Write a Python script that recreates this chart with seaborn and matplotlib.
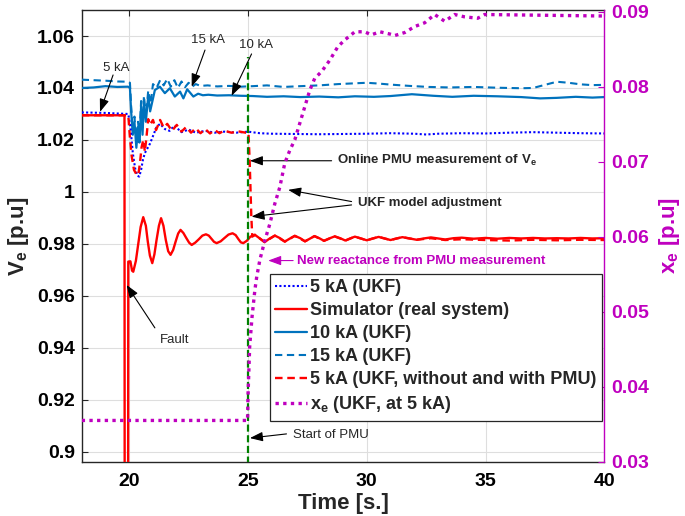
import matplotlib
matplotlib.use("Agg")
import matplotlib.pyplot as plt
import seaborn as sns

# ---------------- data ----------------
sim_time = [18.0, 19.80, 19.81, 19.95, 19.96, 20.05, 20.12, 20.17, 20.28, 20.38,
            20.48, 20.59, 20.70, 20.78, 20.87, 20.97, 21.06, 21.15, 21.25, 21.34,
            21.44, 21.54, 21.64, 21.74, 21.85, 21.95, 22.06, 22.16, 22.28, 22.40,
            22.52, 22.63, 22.78, 22.93, 23.08, 23.23, 23.35, 23.46, 23.57, 23.68,
            23.85, 24.00, 24.18, 24.35, 24.48, 24.60, 24.70, 24.80, 24.95, 25.10,
            25.29, 25.50, 25.70, 25.90, 26.13, 26.35, 26.55, 26.75, 26.97, 27.20,
            27.40, 27.60, 27.80, 28.00, 28.20, 28.42, 28.65, 28.88, 29.10, 29.30,
            29.50, 29.75, 30.00, 30.25, 30.50, 30.75, 31.00, 31.25, 31.50, 31.80,
            32.10, 32.40, 32.70, 33.00, 33.30, 33.65, 34.00, 34.50, 35.00, 35.50,
            36.00, 36.50, 37.00, 37.50, 38.00, 38.50, 39.00, 39.50, 40.00]
sim_volt = [1.0295, 1.0295, 0.8500, 0.8500, 0.9732, 0.9733, 0.9697, 0.9693, 0.9735, 0.9800,
            0.9865, 0.9903, 0.9870, 0.9810, 0.9755, 0.9726, 0.9760, 0.9815, 0.9870, 0.9899,
            0.9870, 0.9815, 0.9772, 0.9758, 0.9777, 0.9808, 0.9840, 0.9854, 0.9842, 0.9823,
            0.9805, 0.9796, 0.9805, 0.9818, 0.9832, 0.9837, 0.9832, 0.9820, 0.9808, 0.9803,
            0.9810, 0.9822, 0.9836, 0.9841, 0.9834, 0.9818, 0.9806, 0.9803, 0.9812, 0.9828,
            0.9835, 0.9821, 0.9807, 0.9820, 0.9832, 0.9822, 0.9809, 0.9820, 0.9831, 0.9822,
            0.9810, 0.9820, 0.9830, 0.9822, 0.9812, 0.9821, 0.9829, 0.9822, 0.9813, 0.9821,
            0.9828, 0.9821, 0.9814, 0.9821, 0.9827, 0.9821, 0.9815, 0.9821, 0.9826, 0.9821,
            0.9816, 0.9821, 0.9825, 0.9821, 0.9817, 0.9822, 0.9824, 0.9820, 0.9823, 0.9820,
            0.9823, 0.9821, 0.9823, 0.9821, 0.9822, 0.9821, 0.9823, 0.9821, 0.9822]

ukf5_time = [18.0, 19.0, 19.96, 20.05, 20.15, 20.25, 20.35, 20.42, 20.50, 20.58,
             20.66, 20.75, 20.87, 21.0, 21.15, 21.3, 21.5, 21.7, 21.9, 22.2,
             22.5, 22.8, 23.2, 23.6, 24.0, 24.5, 25.0, 25.5, 26.0, 27.0,
             28.0, 29.0, 30.0, 31.0, 32.0, 32.5, 33.0, 34.0, 35.0, 36.0,
             37.0, 38.0, 39.0, 40.0]
ukf5_volt = [1.0306, 1.0304, 1.0300, 1.0250, 1.0150, 1.0090, 1.0062, 1.0059, 1.0085, 1.0125,
             1.0150, 1.0165, 1.0185, 1.0215, 1.0250, 1.0262, 1.0242, 1.0235, 1.0255, 1.0230,
             1.0240, 1.0228, 1.0235, 1.0228, 1.0232, 1.0228, 1.0232, 1.0226, 1.0224, 1.0223,
             1.0222, 1.0223, 1.0224, 1.0226, 1.0224, 1.0221, 1.0224, 1.0226, 1.0225, 1.0228,
             1.0230, 1.0228, 1.0226, 1.0225]

ukf10_time = [18.0, 18.5, 19.0, 19.5, 19.95, 20.03, 20.08, 20.15, 20.22, 20.30,
              20.37, 20.43, 20.50, 20.56, 20.62, 20.70, 20.80, 20.88, 21.08, 21.29,
              21.50, 21.71, 21.92, 22.14, 22.28, 22.44, 22.70, 22.90, 23.10, 23.33,
              23.70, 24.20, 24.70, 25.20, 25.80, 26.50, 27.20, 28.00, 28.80, 29.50,
              30.30, 31.00, 31.90, 32.80, 33.60, 34.50, 35.50, 36.50, 37.30, 38.00,
              38.80, 39.50, 40.00]
ukf10_volt = [1.0400, 1.0402, 1.0407, 1.0404, 1.0405, 1.0400, 1.0310, 1.0220, 1.0270, 1.0170,
              1.0250, 1.0190, 1.0330, 1.0220, 1.0350, 1.0270, 1.0370, 1.0310, 1.0392, 1.0405,
              1.0380, 1.0399, 1.0367, 1.0386, 1.0360, 1.0395, 1.0367, 1.0378, 1.0372, 1.0374,
              1.0371, 1.0372, 1.0370, 1.0369, 1.0366, 1.0368, 1.0365, 1.0367, 1.0364, 1.0368,
              1.0366, 1.0369, 1.0376, 1.0370, 1.0366, 1.0370, 1.0368, 1.0365, 1.0360, 1.0362,
              1.0366, 1.0363, 1.0365]

ukf15_time = [18.0, 18.5, 19.0, 19.5, 19.95, 20.03, 20.08, 20.15, 20.22, 20.30,
              20.37, 20.43, 20.50, 20.56, 20.62, 20.70, 20.80, 20.90, 21.0, 21.15,
              21.3, 21.45, 21.6, 21.75, 21.9, 22.05, 22.2, 22.35, 22.5, 22.65,
              22.8, 23.0, 23.3, 23.7, 24.2, 24.7, 25.2, 25.8, 26.5, 27.2,
              28.0, 28.8, 29.5, 30.0, 30.5, 31.0, 31.8, 32.6, 33.5, 34.5,
              35.5, 36.5, 37.0, 37.5, 38.0, 38.5, 39.0, 39.5, 40.0]
ukf15_volt = [1.0432, 1.0430, 1.0428, 1.0425, 1.0424, 1.0420, 1.0330, 1.0240, 1.0290, 1.0190,
              1.0270, 1.0210, 1.0350, 1.0240, 1.0370, 1.0290, 1.0390, 1.0340, 1.0415, 1.0400,
              1.0430, 1.0410, 1.0435, 1.0405, 1.0430, 1.0400, 1.0425, 1.0403, 1.0420, 1.0405,
              1.0415, 1.0408, 1.0410, 1.0406, 1.0408, 1.0405, 1.0407, 1.0410, 1.0404, 1.0407,
              1.0410, 1.0415, 1.0418, 1.0420, 1.0417, 1.0413, 1.0408, 1.0404, 1.0402, 1.0404,
              1.0401, 1.0399, 1.0400, 1.0412, 1.0424, 1.0420, 1.0414, 1.0411, 1.0412]

pmu_time = [18.0, 19.96, 20.02, 20.10, 20.20, 20.30, 20.38, 20.45, 20.52, 20.59,
            20.66, 20.73, 20.80, 20.87, 21.00, 21.13, 21.30, 21.45, 21.60, 21.80,
            22.00, 22.20, 22.40, 22.60, 22.80, 23.00, 23.20, 23.40, 23.60, 23.80,
            24.00, 24.30, 24.60, 24.90, 25.02, 25.07, 25.14, 25.18, 25.29, 25.70,
            26.13, 26.55, 26.97, 27.40, 27.80, 28.20, 28.65, 29.10, 29.50, 30.00,
            30.50, 31.00, 31.50, 32.10, 32.70, 33.30, 34.00, 35.00, 36.00, 37.00,
            38.00, 39.00, 40.00]
pmu_volt = [1.0295, 1.0295, 1.0220, 1.0140, 1.0085, 1.0068, 1.0065, 1.0110, 1.0172, 1.0200,
            1.0155, 1.0215, 1.0280, 1.0258, 1.0277, 1.0238, 1.0277, 1.0248, 1.0262, 1.0235,
            1.0258, 1.0232, 1.0250, 1.0228, 1.0245, 1.0226, 1.0242, 1.0225, 1.0238, 1.0226,
            1.0236, 1.0228, 1.0233, 1.0228, 1.0228, 1.0120, 0.9905, 0.9828, 0.9835, 0.9807,
            0.9832, 0.9809, 0.9831, 0.9810, 0.9830, 0.9812, 0.9829, 0.9813, 0.9828, 0.9814,
            0.9827, 0.9815, 0.9826, 0.9816, 0.9822, 0.9815, 0.9818, 0.9815, 0.9813, 0.9816,
            0.9814, 0.9816, 0.9815]

xe_time = [18.0, 24.98, 25.0, 25.07, 25.17, 25.29, 25.37, 25.5, 25.71, 25.92,
           26.13, 26.34, 26.55, 26.76, 26.97, 27.18, 27.39, 27.6, 27.81, 28.1,
           28.44, 28.78, 29.07, 29.5, 29.9, 30.2, 30.55, 30.97, 31.18, 31.6,
           32.02, 32.44, 32.86, 33.28, 33.7, 34.1, 34.67, 34.96, 40.0]
xe_value = [0.0355, 0.0355, 0.0387, 0.0453, 0.0493, 0.0529, 0.0547, 0.0569, 0.0595, 0.0617,
            0.0644, 0.0666, 0.0698, 0.0715, 0.0729, 0.0751, 0.0773, 0.0795, 0.0811, 0.0820,
            0.0835, 0.0853, 0.0862, 0.0873, 0.0873, 0.0869, 0.0873, 0.0870, 0.0868, 0.0872,
            0.0880, 0.0885, 0.0896, 0.0887, 0.0896, 0.0893, 0.0891, 0.0896, 0.0894]

pmu_start = 25.0
pmu_line_range = [0.85, 1.052]

legend_labels = ["5 kA (UKF)", "Simulator (real system)", "10 kA (UKF)", "15 kA (UKF)",
                 "5 kA (UKF, without and with PMU)", r"$\mathbf{x_e}$ (UKF, at 5 kA)"]
x_ticks = [20, 25, 30, 35, 40]
left_ticks = [0.90, 0.92, 0.94, 0.96, 0.98, 1.00, 1.02, 1.04, 1.06]
left_tick_labels = ["0.9", "0.92", "0.94", "0.96", "0.98", "1", "1.02", "1.04", "1.06"]
right_ticks = [0.03, 0.04, 0.05, 0.06, 0.07, 0.08, 0.09]
right_tick_labels = ["0.03", "0.04", "0.05", "0.06", "0.07", "0.08", "0.09"]

# ---------------- style ----------------
sns.set_theme(style="white")
plt.rcParams["font.family"] = ["Liberation Sans", "DejaVu Sans"]
plt.rcParams["mathtext.fontset"] = "custom"
plt.rcParams["mathtext.rm"] = "Liberation Sans"
plt.rcParams["mathtext.it"] = "Liberation Sans:italic"
plt.rcParams["mathtext.bf"] = "Liberation Sans:bold"

MAG = "#BF00BF"
MBLUE = "#0072BD"
RED = "#FF0000"
BLUE = "#0000FF"
GREEN = "#008000"
AXC = "#262626"

fig = plt.figure(figsize=(6.85, 5.16), dpi=100)
ax = fig.add_axes([0.1193, 0.1052, 0.7629, 0.8754])
ax2 = ax.twinx()

def draw(axis, x, y, **kw):
    sns.lineplot(x=x, y=y, ax=axis, estimator=None, sort=False, legend=False, **kw)
    return axis.get_lines()[-1]

h_sim = draw(ax, sim_time, sim_volt, color=RED, linewidth=1.7, zorder=3)
h_5 = draw(ax, ukf5_time, ukf5_volt, color=BLUE, linewidth=1.5, linestyle=(0, (1, 1.1)), zorder=4)
h_10 = draw(ax, ukf10_time, ukf10_volt, color=MBLUE, linewidth=1.6, zorder=3)
h_15 = draw(ax, ukf15_time, ukf15_volt, color=MBLUE, linewidth=1.5, linestyle=(0, (3.5, 2.2)), zorder=3)
h_pmu = draw(ax, pmu_time, pmu_volt, color=RED, linewidth=1.7, linestyle=(0, (3.2, 2.0)), zorder=4)
ax.vlines(pmu_start, pmu_line_range[0], pmu_line_range[1], colors=GREEN, linewidth=1.6,
          linestyles=[(0, (3.2, 1.6))], zorder=5)
h_xe = draw(ax2, xe_time, xe_value, color=MAG, linewidth=2.4, linestyle=(0, (1, 1.3)), zorder=3)

# ---------------- axes ----------------
ax.set_xlim(18, 40)
ax.set_ylim(0.8962, 1.07)
ax2.set_ylim(0.03, 0.0902)
ax.set_xticks(x_ticks)
ax.set_xticklabels([str(t) for t in x_ticks], fontweight="bold", fontsize=14)
ax.set_yticks(left_ticks)
ax.set_yticklabels(left_tick_labels, fontweight="bold", fontsize=14)
ax2.set_yticks(right_ticks)
ax2.set_yticklabels(right_tick_labels, fontweight="bold", fontsize=14, color=MAG)

ax.grid(True, color="#dedede", linewidth=0.8)
ax.set_axisbelow(True)
ax2.grid(False)
ax.tick_params(axis="x", direction="in", length=4, width=0.8, color=AXC, labelcolor="black",
               top=True, pad=8)
ax.tick_params(axis="y", direction="in", length=4, width=0.8, color=AXC, labelcolor="black",
               right=False, pad=5)
ax2.tick_params(axis="y", direction="in", length=4, width=0.8, color=MAG, labelcolor=MAG, pad=5)
for s in ["left", "bottom", "top"]:
    ax.spines[s].set_color(AXC)
    ax.spines[s].set_linewidth(1.0)
for s in ["left", "bottom", "top"]:
    ax2.spines[s].set_visible(False)
ax.spines["right"].set_visible(False)
ax2.spines["right"].set_color(MAG)
ax2.spines["right"].set_linewidth(1.0)

ax.set_xlabel("Time [s.]", fontsize=16, fontweight="bold", labelpad=2)
ax.set_ylabel(r"$\mathbf{V_e}$ [p.u]", fontsize=16, fontweight="bold", labelpad=4)
ax2.set_ylabel(r"$\mathbf{x_e}$ [p.u]", fontsize=16, fontweight="bold", color=MAG,
               labelpad=6, rotation=90)

# ---------------- annotations ----------------
def arrow(tail, head, color="black"):
    ax.annotate("", xy=head, xytext=tail, xycoords="data", textcoords="data",
                arrowprops=dict(arrowstyle="-|>,head_length=0.6,head_width=0.22",
                                mutation_scale=13, color=color, lw=0.8,
                                shrinkA=0, shrinkB=0), zorder=6)

ax.text(19.47, 1.0477, "5 kA", fontsize=9.5, ha="center", va="center", zorder=6)
arrow((19.32, 1.0450), (18.77, 1.0308))
ax.text(23.33, 1.0585, "15 kA", fontsize=9.5, ha="center", va="center", zorder=6)
arrow((23.19, 1.0546), (22.63, 1.0405))
ax.text(25.32, 1.0565, "10 kA", fontsize=9.5, ha="center", va="center", zorder=6)
arrow((25.15, 1.0531), (24.31, 1.0370))
ax.text(28.73, 1.0120, r"Online PMU measurement of $\mathbf{V_e}$", fontsize=9.5,
        fontweight="bold", ha="left", va="center", zorder=6)
arrow((28.52, 1.0120), (25.08, 1.0120))
ax.text(29.64, 0.9959, "UKF model adjustment", fontsize=9.5, fontweight="bold",
        ha="left", va="center", zorder=6)
arrow((29.36, 0.9963), (26.69, 1.0008))
arrow((29.36, 0.9950), (25.15, 0.9905))
ax.text(27.05, 0.9736, "New reactance from PMU measurement", fontsize=9.5, fontweight="bold",
        color=MAG, ha="left", va="center", zorder=6)
arrow((26.90, 0.9736), (25.85, 0.9736), color=MAG)
ax.text(21.93, 0.9431, "Fault", fontsize=9.5, ha="center", va="center", zorder=6)
arrow((21.08, 0.9477), (19.89, 0.9642))
ax.text(26.88, 0.9065, "Start of PMU", fontsize=9.5, ha="left", va="center", zorder=6)
arrow((26.62, 0.9069), (25.08, 0.9053))

# ---------------- legend ----------------
leg = ax2.legend([h_5, h_sim, h_10, h_15, h_pmu, h_xe], legend_labels,
                 loc="upper left", bbox_to_anchor=(0.360, 0.4155), borderaxespad=0,
                 frameon=True, fancybox=False, edgecolor=AXC, framealpha=1,
                 prop={"weight": "bold", "size": 13}, handlelength=1.75,
                 handletextpad=0.2, labelspacing=0.33, borderpad=0.3)
leg.get_frame().set_linewidth(0.9)
leg.set_zorder(10)

fig.savefig("out.png", dpi=100)
